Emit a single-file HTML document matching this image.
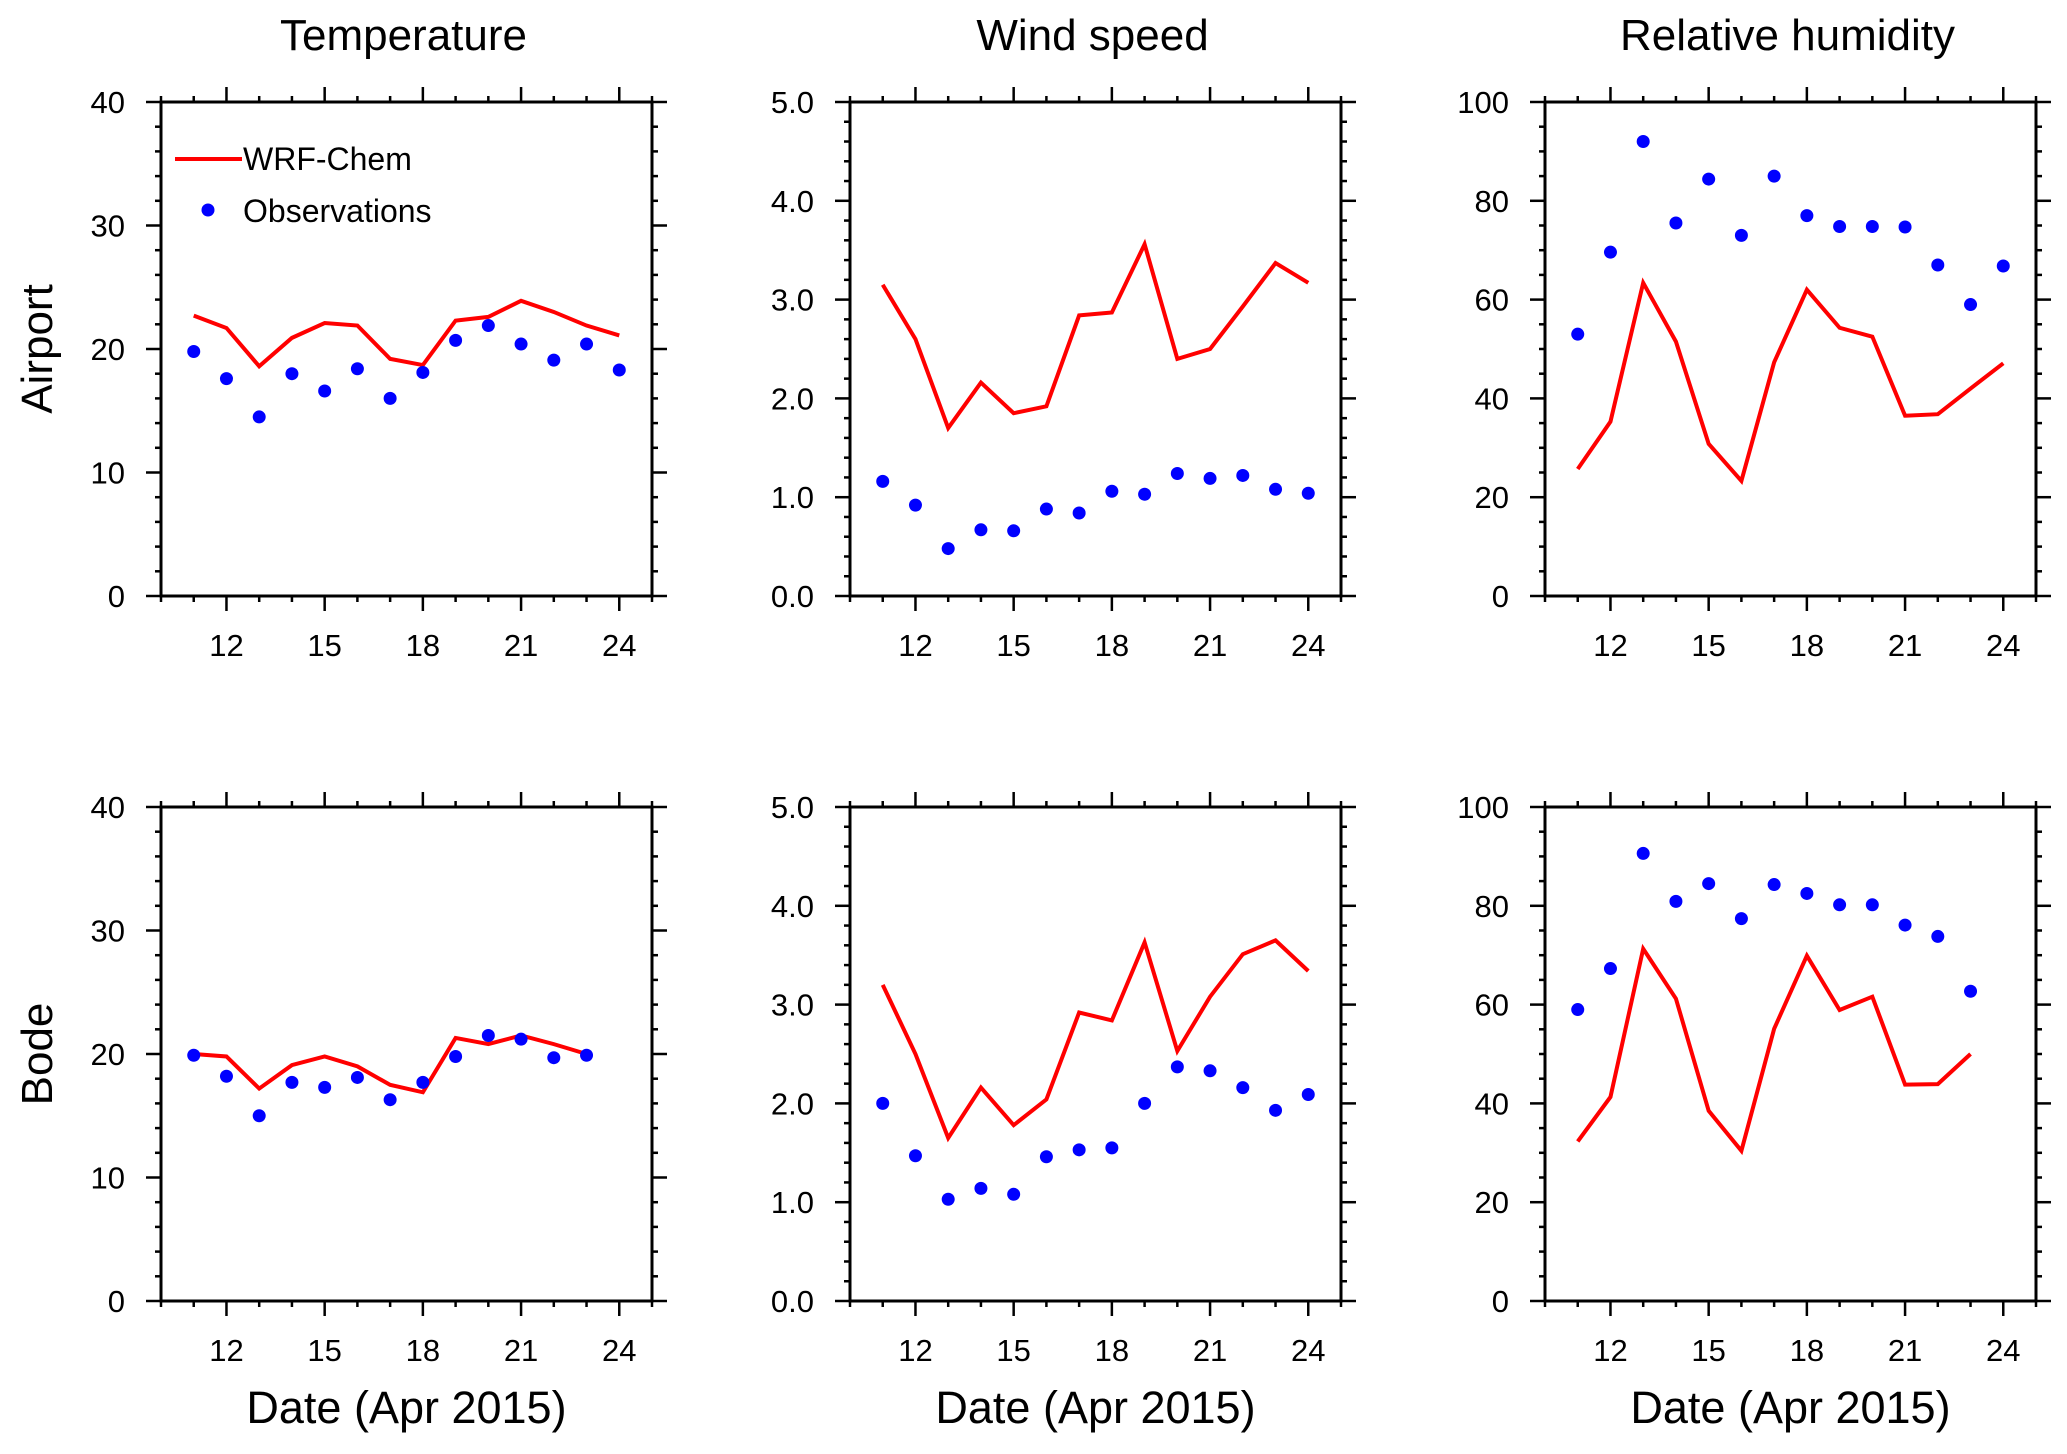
<!DOCTYPE html>
<html><head><meta charset="utf-8"><style>
html,body{margin:0;padding:0;background:#fff;}
svg{display:block;font-family:"Liberation Sans",Arial,sans-serif;}
</style></head><body>
<svg id="chart" width="2067" height="1454" viewBox="0 0 2067 1454"></svg>
<script>
const days = [11,12,13,14,15,16,17,18,19,20,21,22,23,24];
const tempAirportModel = [22.7,21.7,18.6,20.9,22.1,21.9,19.2,18.7,22.3,22.6,23.9,23.0,21.9,21.1];
const tempAirportObs = [19.8,17.6,14.5,18.0,16.6,18.4,16.0,18.1,20.7,21.9,20.4,19.1,20.4,18.3];
const tempBodeModel = [20.0,19.8,17.2,19.1,19.8,19.0,17.5,16.9,21.3,20.8,21.5,20.8,20.0];
const tempBodeObs = [19.9,18.2,15.0,17.7,17.3,18.1,16.3,17.7,19.8,21.5,21.2,19.7,19.9];
const windAirportModel = [3.15,2.6,1.7,2.16,1.85,1.92,2.84,2.87,3.56,2.4,2.5,2.93,3.37,3.17];
const windAirportObs = [1.16,0.92,0.48,0.67,0.66,0.88,0.84,1.06,1.03,1.24,1.19,1.22,1.08,1.04];
const windBodeModel = [3.2,2.5,1.65,2.16,1.78,2.04,2.92,2.84,3.63,2.53,3.08,3.51,3.65,3.34];
const windBodeObs = [2.0,1.47,1.03,1.14,1.08,1.46,1.53,1.55,2.0,2.37,2.33,2.16,1.93,2.09];
const rhAirportModel = [25.7,35.3,63.4,51.5,30.8,23.3,47.3,62.0,54.3,52.5,36.5,36.8,42.0,47.1];
const rhAirportObs = [53,69.6,92,75.5,84.4,73,85,77,74.8,74.8,74.7,67,59,66.8];
const rhBodeModel = [32.3,41.3,71.3,61.2,38.5,30.4,55.1,69.9,58.9,61.6,43.8,43.9,50.0];
const rhBodeObs = [59,67.3,90.6,80.9,84.5,77.4,84.3,82.5,80.2,80.2,76.1,73.8,62.7];
const xTicks = [12,15,18,21,24];
const tempTicks = ["0","10","20","30","40"];
const windTicks = ["0.0","1.0","2.0","3.0","4.0","5.0"];
const rhTicks = ["0","20","40","60","80","100"];
const colTitles = ["Temperature","Wind speed","Relative humidity"];
const rowTitles = ["Airport","Bode"];

const NS="http://www.w3.org/2000/svg";
const svg=document.getElementById('chart');
function mk(tag,attrs,parent){const e=document.createElementNS(NS,tag);for(const k in attrs)e.setAttribute(k,attrs[k]);(parent||svg).appendChild(e);return e;}

const colX=[161,850,1545], W=491;
const rowY=[102,807], H=494;
const panels=[
 {c:0,r:0,ymax:40,minor:2,ticks:tempTicks,m:tempAirportModel,o:tempAirportObs,name:'temperature-airport'},
 {c:1,r:0,ymax:5,minor:0.2,ticks:windTicks,m:windAirportModel,o:windAirportObs,name:'wind-airport'},
 {c:2,r:0,ymax:100,minor:5,ticks:rhTicks,m:rhAirportModel,o:rhAirportObs,name:'humidity-airport'},
 {c:0,r:1,ymax:40,minor:2,ticks:tempTicks,m:tempBodeModel,o:tempBodeObs,name:'temperature-bode'},
 {c:1,r:1,ymax:5,minor:0.2,ticks:windTicks,m:windBodeModel,o:windBodeObs,name:'wind-bode'},
 {c:2,r:1,ymax:100,minor:5,ticks:rhTicks,m:rhBodeModel,o:rhBodeObs,name:'humidity-bode'}
];

colTitles.forEach((t,i)=>{
 const e=mk('text',{x:colX[i]+W/2-3,y:50,'font-size':44,'text-anchor':'middle',fill:'#000'});
 e.textContent=t;
 
 
});
rowTitles.forEach((t,i)=>{
 const cy=rowY[i]+H/2;
 const e=mk('text',{x:0,y:0,'font-size':44,'text-anchor':'middle',fill:'#000',transform:`translate(52,${cy}) rotate(-90)`});
 e.textContent=t;
 
 
});

panels.forEach(p=>{
 const x0=colX[p.c], y0=rowY[p.r];
 const g=mk('g',{});
 
 
 const xs=d=>x0+(d-10)/15*W;
 const ys=v=>y0+H-(v/p.ymax)*H;
 const nMinor=Math.round(p.ymax/p.minor);
 const majorStep=p.ymax/(p.ticks.length-1);
 for(let i=0;i<=nMinor;i++){
  const v=i*p.minor, y=ys(v);
  const isMajor=Math.abs(v/majorStep-Math.round(v/majorStep))<1e-6;
  const L=isMajor?15:6;
  mk('line',{x1:x0-L,y1:y,x2:x0,y2:y,stroke:'#000','stroke-width':2.5},g);
  mk('line',{x1:x0+W,y1:y,x2:x0+W+L,y2:y,stroke:'#000','stroke-width':2.5},g);
 }
 for(let d=10;d<=25;d++){
  const x=xs(d), isMajor=xTicks.includes(d);
  const L=isMajor?15:6;
  mk('line',{x1:x,y1:y0-L,x2:x,y2:y0,stroke:'#000','stroke-width':2.5},g);
  mk('line',{x1:x,y1:y0+H,x2:x,y2:y0+H+L,stroke:'#000','stroke-width':2.5},g);
 }
 const box=mk('rect',{x:x0,y:y0,width:W,height:H,fill:'none',stroke:'#000','stroke-width':3},g);
 
 
 p.ticks.forEach((t,i)=>{
  const e=mk('text',{x:x0-36,y:ys(i*majorStep)+11,'font-size':31,'text-anchor':'end',fill:'#000'},g);
  e.textContent=t;
  
  
 });
 xTicks.forEach(d=>{
  const e=mk('text',{x:xs(d),y:y0+H+60,'font-size':31,'text-anchor':'middle',fill:'#000'},g);
  e.textContent=d;
  
  
 });
 if(p.r===1){
  const e=mk('text',{x:x0+W/2,y:1423,'font-size':45,'text-anchor':'middle',fill:'#000'},g);
  e.textContent='Date (Apr 2015)';
  
  
 }
 const pts=p.m.map((v,i)=>xs(days[i])+','+ys(v)).join(' ');
 const line=mk('polyline',{points:pts,fill:'none',stroke:'#f00','stroke-width':4,'stroke-linejoin':'miter'},g);
 
 
 p.o.forEach((v,i)=>{
  const c=mk('circle',{cx:xs(days[i]),cy:ys(v),r:6.5,fill:'#00f'},g);
  
  
 });
});

const lg=mk('g',{});


mk('line',{x1:175,y1:159,x2:242,y2:159,stroke:'#f00','stroke-width':4},lg);
const l1=mk('text',{x:243,y:170,'font-size':32,fill:'#000'},lg);
l1.textContent='WRF-Chem';


mk('circle',{cx:208,cy:210,r:6.5,fill:'#00f'},lg);
const l2=mk('text',{x:243,y:222,'font-size':32,fill:'#000'},lg);
l2.textContent='Observations';


</script>
</body></html>
